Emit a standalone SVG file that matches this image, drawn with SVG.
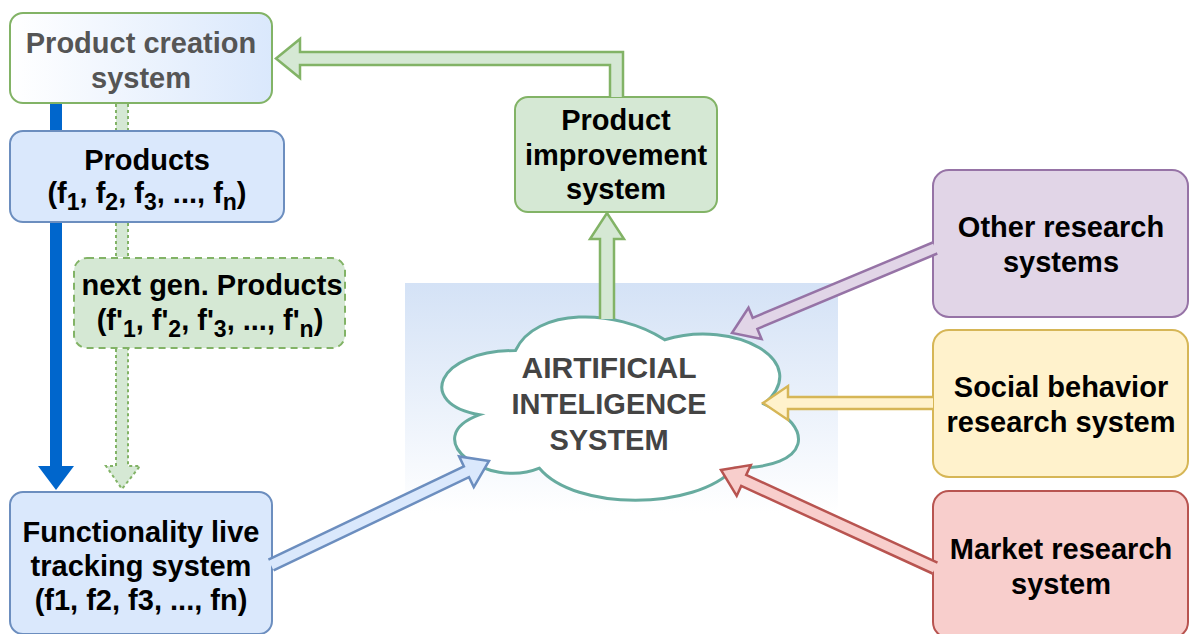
<svg xmlns="http://www.w3.org/2000/svg" width="1190" height="634" viewBox="0 0 1190 634">
  <defs>
    <linearGradient id="creationFill" x1="0" y1="0" x2="1" y2="0">
      <stop offset="0" stop-color="#ffffff"/>
      <stop offset="1" stop-color="#dae8fc"/>
    </linearGradient>
    <linearGradient id="aiBackdrop" x1="0" y1="0" x2="0" y2="1">
      <stop offset="0" stop-color="#d4e2f6"/>
      <stop offset="1" stop-color="#ffffff"/>
    </linearGradient>
    <style>
      text { font-family: "Liberation Sans", Arial, sans-serif; font-weight: bold; font-size: 29px; text-anchor: middle; fill: #000; }
      .sub { font-size: 23px; }
      .grey { fill: #555555; }
      .ai { fill: #444444; }
      .box { stroke-width: 2; }
      .blue { fill: #dae8fc; stroke: #6c8ebf; }
      .green { fill: #d5e8d4; stroke: #82b366; }
      .purple { fill: #e1d5e7; stroke: #9673a6; }
      .yellow { fill: #fff2cc; stroke: #d6b656; }
      .red { fill: #f8cecc; stroke: #b85450; }
      .flex { stroke-width: 2.5; stroke-linejoin: miter; }
    </style>
  </defs>

  <rect width="1190" height="634" fill="#ffffff"/>

  <!-- soft backdrop behind the AI cloud -->
  <rect x="405" y="283" width="433" height="230" fill="url(#aiBackdrop)"/>

  <!-- nodes -->
  <g id="product-creation">
    <rect class="box" x="10" y="13" width="262" height="90" rx="13" fill="url(#creationFill)" stroke="#82b366"/>
    <text class="grey" x="141" y="53">Product creation</text>
    <text class="grey" x="141" y="88">system</text>
  </g>

  <g id="products">
    <rect class="box blue" x="10" y="131" width="274" height="91" rx="13"/>
    <text x="147" y="170">Products</text>
    <text x="147" y="203">(f<tspan class="sub" dy="7">1</tspan><tspan dy="-7">, f</tspan><tspan class="sub" dy="7">2</tspan><tspan dy="-7">, f</tspan><tspan class="sub" dy="7">3</tspan><tspan dy="-7">, ..., f</tspan><tspan class="sub" dy="7">n</tspan><tspan dy="-7">)</tspan></text>
  </g>

  <g id="next-gen-products">
    <rect class="box green" x="74" y="258" width="271" height="90" rx="13" stroke-dasharray="7 5"/>
    <text x="212" y="295">next gen. Products</text>
    <text x="210" y="330">(f'<tspan class="sub" dy="7">1</tspan><tspan dy="-7">, f'</tspan><tspan class="sub" dy="7">2</tspan><tspan dy="-7">, f'</tspan><tspan class="sub" dy="7">3</tspan><tspan dy="-7">, ..., f'</tspan><tspan class="sub" dy="7">n</tspan><tspan dy="-7">)</tspan></text>
  </g>

  <g id="functionality-tracking">
    <rect class="box blue" x="10" y="492" width="262" height="142" rx="13"/>
    <text x="141" y="542">Functionality live</text>
    <text x="141" y="576">tracking system</text>
    <text x="141" y="610">(f1, f2, f3, ..., fn)</text>
  </g>

  <g id="product-improvement">
    <rect class="box green" x="515" y="97" width="202" height="115" rx="13"/>
    <text x="616" y="130">Product</text>
    <text x="616" y="165">improvement</text>
    <text x="616" y="199">system</text>
  </g>

  <g id="ai-system">
    <path d="M515.5,350.5 C435.9,350.5 416,404 479.7,414.7 C416,438.2 487.6,489.6 539.4,468.2 C575.2,511 694.6,511 734.4,468.2 C814,468.2 814,425.4 764.25,404 C814,361.2 734.4,318.4 664.75,339.8 C615,307.7 535.4,307.7 515.5,350.5 Z" fill="#ffffff" stroke="#67ab9f" stroke-width="3"/>
    <text class="ai" x="609" y="378" style="font-size:30px">AIRTIFICIAL</text>
    <text class="ai" x="609" y="414">INTELIGENCE</text>
    <text class="ai" x="609" y="450">SYSTEM</text>
  </g>

  <g id="other-research">
    <rect class="box purple" x="933" y="170" width="255" height="147" rx="16"/>
    <text x="1061" y="237">Other research</text>
    <text x="1061" y="272">systems</text>
  </g>

  <g id="social-research">
    <rect class="box yellow" x="933" y="330" width="255" height="147" rx="16"/>
    <text x="1061" y="397">Social behavior</text>
    <text x="1061" y="432">research system</text>
  </g>

  <g id="market-research">
    <rect class="box red" x="933" y="491" width="255" height="147" rx="16"/>
    <text x="1061" y="559">Market research</text>
    <text x="1061" y="594">system</text>
  </g>

  <!-- connectors -->
  <g id="connectors">
    <!-- solid blue: creation -> live tracking (passes behind the Products box) -->
    <path d="M50,104 H62 V130 H50 Z M50,223 H62 V466 H74 L56,490 L38,466 H50 Z" fill="#0066cc"/>

    <!-- dotted green: creation -> next gen -> live tracking (runs behind the boxes) -->
    <g fill="#d5e8d4">
      <rect x="116" y="104" width="12" height="26"/>
      <rect x="116" y="223" width="12" height="34"/>
      <path d="M116,349 V466 H106 L122,489 L140,466 H128 V349 Z"/>
    </g>
    <g fill="none" stroke="#82b366" stroke-width="2" stroke-dasharray="3 3">
      <path d="M116,104 V130 M128,104 V130"/>
      <path d="M116,223 V257 M128,223 V257"/>
      <path d="M116,349 V466 H106 L122,489 L140,466 H128 V349"/>
    </g>

    <!-- improvement -> creation (elbow) -->
    <path class="flex green" d="M610,97 V65 H300 V78 L276,58.5 L300,39 V52 H623 V97"/>

    <!-- AI -> improvement -->
    <path class="flex green" d="M600,319 V239 H590 L607,213 L624,239 H614 V319"/>

    <!-- live tracking -> AI -->
    <path class="flex blue" d="M273.6,570.4 L469,477.2 L473.8,487.1 L489,461 L459.1,456.4 L463.9,466.4 L268.4,559.6"/>

    <!-- other research -> AI -->
    <path class="flex purple" d="M932.7,242.5 L752.7,317.8 L748.5,307.7 L732,333 L761.6,339 L757.4,328.9 L937.3,253.5"/>

    <!-- social research -> AI -->
    <path class="flex yellow" d="M933,397 H788 V386 L763,403 L788,420 V409 H933"/>

    <!-- market research -> AI -->
    <path class="flex red" d="M937.5,562.6 L746.2,475 L750.8,465 L721,470 L736.7,495.9 L741.2,485.9 L932.5,573.5"/>
  </g>
</svg>
